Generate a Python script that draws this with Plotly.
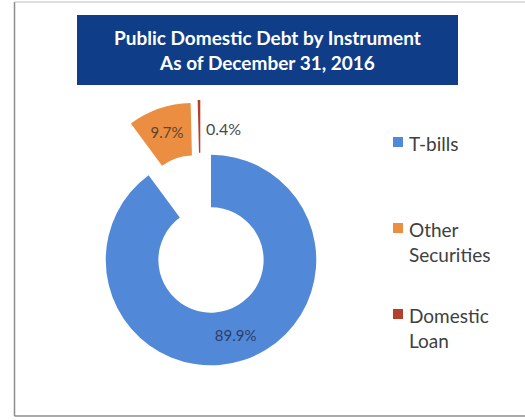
import plotly.graph_objects as go

# Public domestic debt composition (percent of total)
instruments = ["T-bills", "Other Securities", "Domestic Loan"]
legend_labels = ["T-bills", "Other<br>Securities", "Domestic<br>Loan"]
shares = [89.9, 9.7, 0.4]
colors = ["#5288D8", "#EC8E42", "#B3402A"]
pulls = [0, 0.52, 0.52]

title_lines = ["Public Domestic Debt by Instrument", "As of December 31, 2016"]

W, H = 525, 420
CLEAR = "rgba(0,0,0,0)"


def px(x):
    return x / W


def py(y):
    return 1 - y / H


def donut(domain_x, slice_colors, templates, positions, hover):
    return go.Pie(
        labels=instruments,
        values=shares,
        sort=False,
        direction="clockwise",
        rotation=0,
        hole=0.5,
        pull=pulls,
        marker=dict(colors=slice_colors, line=dict(width=0)),
        texttemplate=templates,
        textposition=positions,
        insidetextorientation="horizontal",
        textfont=dict(family="Lato", size=15, color=["#2B3F6C", "#5A4530", "#444444"]),
        domain=dict(x=domain_x, y=[py(420), py(100)]),
        showlegend=False,
        hoverinfo=hover,
    )


fig = go.Figure()

# main ring: T-bills and the exploded Other Securities wedge
fig.add_trace(donut([px(51), px(371)], [colors[0], colors[1], CLEAR],
                    ["%{value:.1f}%", "%{value:.1f}%", ""],
                    ["inside", "inside", "none"], "label+percent"))
# the thin Domestic Loan sliver, set slightly apart from the orange wedge
fig.add_trace(donut([px(41), px(361)], [CLEAR, CLEAR, colors[2]],
                    ["", "", ""], ["none", "none", "none"], "skip"))

shapes = []
annotations = []

# chart frame
shapes.append(dict(type="line", xref="paper", yref="paper",
                   x0=px(14.5), x1=px(14.5), y0=py(2), y1=py(416),
                   line=dict(color="#8C8C8C", width=1.5)))
shapes.append(dict(type="line", xref="paper", yref="paper",
                   x0=px(14.5), x1=1, y0=py(2), y1=py(2),
                   line=dict(color="#BDBDBD", width=1)))
shapes.append(dict(type="line", xref="paper", yref="paper",
                   x0=px(14.5), x1=1, y0=py(416), y1=py(416),
                   line=dict(color="#8C8C8C", width=1.5)))

# title banner
shapes.append(dict(type="rect", xref="paper", yref="paper",
                   x0=px(77), x1=px(458), y0=py(85), y1=py(15),
                   fillcolor="#0F3D87", line=dict(width=0), layer="below"))
annotations.append(dict(
    xref="paper", yref="paper", x=px(267), y=py(50),
    text="<br>".join(title_lines), showarrow=False,
    xanchor="center", yanchor="middle", align="center",
    font=dict(family="Lato", size=19, color="white", weight="bold"),
))

# label for the thin domestic loan slice
annotations.append(dict(
    xref="paper", yref="paper", x=px(204), y=py(128),
    text=f"{shares[2]:.1f}%", showarrow=False,
    xanchor="left", yanchor="middle",
    font=dict(family="Lato", size=16, color="#4A4A4A"),
))

# legend: colour swatch plus label for each instrument
legend_rows = [142, 228, 314]
for lab, col, yrow in zip(legend_labels, colors, legend_rows):
    shapes.append(dict(type="rect", xref="paper", yref="paper",
                       x0=px(393), x1=px(403), y0=py(yrow + 5), y1=py(yrow - 5),
                       fillcolor=col, line=dict(width=0)))
    annotations.append(dict(
        xref="paper", yref="paper", x=px(407), y=py(yrow - 12),
        text=lab, showarrow=False, xanchor="left", yanchor="top", align="left",
        font=dict(family="Lato", size=19, color="#404040"),
    ))

fig.update_layout(
    width=W, height=H,
    margin=dict(l=0, r=0, t=0, b=0),
    paper_bgcolor="white",
    plot_bgcolor="white",
    shapes=shapes,
    annotations=annotations,
)

fig.write_html("out.html")
